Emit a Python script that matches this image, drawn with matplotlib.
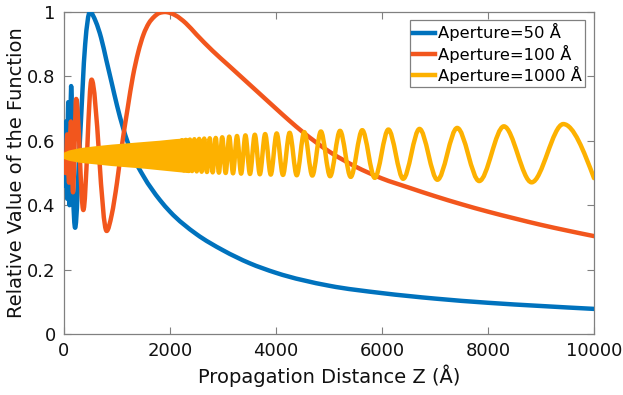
import numpy as np
import matplotlib
matplotlib.use("Agg")
from matplotlib import pyplot as plt
from matplotlib.path import Path
from matplotlib.patches import PathPatch
from matplotlib.lines import Line2D

# Aperture = 50 A (blue)
blue_z = [0, 20, 40, 60, 80, 105, 135, 170, 210, 300, 400, 490, 600, 700, 800,
          900, 1000, 1115, 1280, 1500, 1810, 2000, 2500, 3000, 3500, 4000, 5000,
          6000, 7000, 8000, 9000, 10000]
blue_y = [0.56, 0.46, 0.66, 0.42, 0.72, 0.40, 0.77, 0.45, 0.33, 0.60, 0.90, 1.0,
          0.97, 0.92, 0.85, 0.78, 0.71, 0.64, 0.56, 0.49, 0.416, 0.38, 0.31, 0.26,
          0.22, 0.19, 0.15, 0.127, 0.11, 0.097, 0.087, 0.078]

# Aperture = 100 A (orange)
orange_z = [0, 30, 60, 95, 130, 170, 230, 365, 520, 805, 900, 1000, 1088, 1200,
            1300, 1400, 1500, 1600, 1700, 1800, 1905, 2100, 2300, 2500, 2800,
            3100, 3400, 3700, 4000, 4250, 4500, 4750, 5000, 5500, 6000, 6500,
            7000, 7500, 8000, 8500, 9000, 9500, 10000]
orange_y = [0.56, 0.50, 0.62, 0.47, 0.66, 0.44, 0.73, 0.385, 0.79, 0.32, 0.37,
            0.47, 0.58, 0.70, 0.80, 0.875, 0.93, 0.965, 0.985, 0.997, 1.0, 0.99,
            0.965, 0.93, 0.88, 0.835, 0.79, 0.745, 0.70, 0.663, 0.628, 0.596,
            0.567, 0.52, 0.483, 0.455, 0.428, 0.403, 0.38, 0.359, 0.339, 0.321,
            0.304]

# Aperture = 1000 A (yellow): unresolved band near the origin
band_z = [0, 100, 300, 600, 900, 1200, 1500, 1800, 2100, 2350]
band_hi = [0.558, 0.565, 0.572, 0.578, 0.583, 0.587, 0.591, 0.595, 0.600, 0.603]
band_lo = [0.552, 0.546, 0.540, 0.535, 0.530, 0.526, 0.522, 0.517, 0.512, 0.508]

# ... and its resolved oscillation (alternating peaks and troughs)
yellow_z = [2225, 2261, 2298, 2337, 2376, 2417, 2460, 2504, 2550, 2597, 2646,
            2697, 2750, 2805, 2863, 2923, 2985, 3050, 3118, 3189, 3264, 3342,
            3423, 3509, 3600, 3695, 3795, 3901, 4013, 4131, 4257, 4391, 4533,
            4685, 4847, 5021, 5208, 5410, 5627, 5863, 6120, 6400, 6707, 7045,
            7418, 7834, 8299, 8822, 9420, 10000]
yellow_y = [0.602, 0.508, 0.603, 0.507, 0.604, 0.506, 0.605, 0.505, 0.606, 0.504,
            0.607, 0.503, 0.608, 0.502, 0.609, 0.501, 0.611, 0.500, 0.613, 0.499,
            0.615, 0.498, 0.617, 0.497, 0.619, 0.496, 0.621, 0.495, 0.623, 0.494,
            0.625, 0.493, 0.627, 0.492, 0.629, 0.490, 0.631, 0.488, 0.633, 0.485,
            0.635, 0.482, 0.637, 0.479, 0.640, 0.475, 0.645, 0.471, 0.652, 0.484]

labels = ["Aperture=50 Å", "Aperture=100 Å", "Aperture=1000 Å"]
colors = ["#0072BD", "#F2561D", "#FDB100"]
LW = 3.2


def smooth_path(x, y):
    # monotone-x cubic through the points (flat at local extrema)
    x = np.asarray(x, float)
    y = np.asarray(y, float)
    h = np.diff(x)
    s = np.diff(y) / h
    m = np.zeros(len(x))
    for i in range(1, len(x) - 1):
        if s[i - 1] * s[i] > 0:
            p = (s[i - 1] * h[i] + s[i] * h[i - 1]) / (h[i - 1] + h[i])
            m[i] = np.sign(s[i]) * min(abs(s[i - 1]), abs(s[i]), 0.5 * abs(p)) * 2
    m[0] = (3 * s[0] - m[1]) / 2
    m[-1] = (3 * s[-1] - m[-2]) / 2
    verts = [(x[0], y[0])]
    codes = [Path.MOVETO]
    for i in range(len(x) - 1):
        d = h[i] / 3
        verts += [(x[i] + d, y[i] + m[i] * d),
                  (x[i + 1] - d, y[i + 1] - m[i + 1] * d),
                  (x[i + 1], y[i + 1])]
        codes += [Path.CURVE4] * 3
    return Path(verts, codes)


fig = plt.figure(figsize=(6.23, 3.95), dpi=100)
ax = fig.add_axes([0.1027, 0.1544, 0.8508, 0.8152])

for zs, ys, c, z in [(blue_z, blue_y, colors[0], 3),
                     (orange_z, orange_y, colors[1], 4)]:
    ax.add_patch(PathPatch(smooth_path(zs, ys), fill=False, edgecolor=c,
                           lw=LW, capstyle="round", joinstyle="round", zorder=z))

ax.fill_between(band_z, band_lo, band_hi, color=colors[2], lw=LW, zorder=5)
ax.add_patch(PathPatch(smooth_path(yellow_z, yellow_y), fill=False,
                       edgecolor=colors[2], lw=LW, capstyle="round",
                       joinstyle="round", zorder=5))

ax.set_xlim(0, 10000)
ax.set_ylim(0, 1)
ax.set_xticks([0, 2000, 4000, 6000, 8000, 10000])
ax.set_yticks([0, 0.2, 0.4, 0.6, 0.8, 1])
ax.set_yticklabels(["0", "0.2", "0.4", "0.6", "0.8", "1"])
ax.tick_params(direction="in", length=5, width=0.8, color="#808080",
               labelsize=13, labelcolor="#111111", top=True, right=True)
ax.tick_params(axis="x", pad=6)
ax.tick_params(axis="y", pad=6)
for sp in ax.spines.values():
    sp.set_color("#808080")
    sp.set_linewidth(0.9)

ax.set_xlabel("Propagation Distance Z (Å)", fontsize=14, color="#111111", labelpad=3)
ax.set_ylabel("Relative Value of the Function", fontsize=14, color="#111111", labelpad=1)

# legend
handles = [Line2D([], [], color=c, lw=LW) for c in colors]
leg = ax.legend(handles, labels, loc="upper right", bbox_to_anchor=(0.983, 0.975),
                borderaxespad=0, fontsize=11.8, handlelength=1.3, handletextpad=0.2,
                labelspacing=0.2, borderpad=0.2, fancybox=False, framealpha=1)
leg.get_frame().set_edgecolor("#808080")
leg.get_frame().set_linewidth(0.9)

fig.savefig("out.png", dpi=100)
